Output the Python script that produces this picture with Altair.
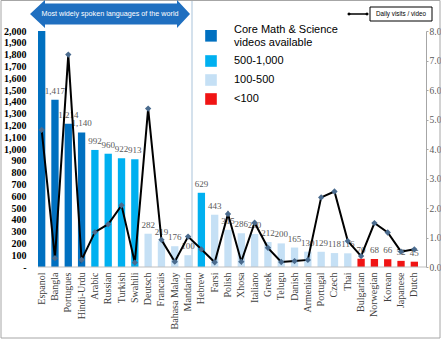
import altair as alt
import pandas as pd

languages = ["Espanol", "Bangla", "Portugues", "Hindi-Urdu", "Arabic", "Russian", "Turkish",
             "Swahili", "Deutsch", "Francais", "Bahasa Malay", "Mandarin", "Hebrew", "Farsi",
             "Polish", "Xhosa", "Italiano", "Greek", "Telugu", "Danish", "Armenian", "Portugal",
             "Czech", "Thai", "Bulgarian", "Norwegian", "Korean", "Japanese", "Dutch"]
videos = [2000, 1417, 1214, 1140, 992, 960, 922, 913, 282, 219, 176, 100, 629, 443,
          315, 286, 280, 212, 200, 165, 130, 129, 118, 116, 70, 68, 66, 52, 45]
daily_visits = [4.65, 0.30, 7.20, 0.24, 1.18, 1.45, 2.09, 0.15, 5.37, 0.92, 0.18, 1.03, 0.60, 0.16,
                1.80, 0.18, 1.50, 0.65, 0.17, 0.20, 0.24, 2.36, 2.56, 0.88, 0.37, 1.49, 1.17, 0.52, 0.60]
legend_labels = ["Core Math & Science videos available", "500-1,000", "100-500", "<100"]
legend_colors = ["#0070C0", "#00B0F0", "#C5E0F5", "#F01414"]
groups = [legend_labels[0]] * 4 + [legend_labels[1]] * 4 + [legend_labels[2]] * 4 + \
         [legend_labels[1]] + [legend_labels[2]] * 11 + [legend_labels[3]] * 5
banner_text = "Most widely spoken languages of the world"
line_legend_text = "Daily visits / video"

df = pd.DataFrame({"language": languages, "videos": videos, "visits": daily_visits, "group": groups})

W, H = 380, 236
L, T = 38, 31
serif = "Liberation Serif"
sans = "Liberation Sans"

x = alt.X("language:N", sort=languages,
          scale=alt.Scale(paddingInner=0.45, paddingOuter=0),
          axis=alt.Axis(title=None, labelAngle=-90, labelFont=serif, labelFontSize=10,
                        labelColor="#404040", ticks=False, domain=False, labelPadding=5))

left_scale = alt.Scale(domain=[0, 2000], nice=False)
right_scale = alt.Scale(domain=[0, 8], nice=False)

y_left = alt.Y("videos:Q", scale=left_scale,
               axis=alt.Axis(title=None, values=list(range(0, 2001, 100)),
                             labelExpr="datum.value == 0 ? '-\u00a0\u00a0\u00a0' : format(datum.value, ',')",
                             labelFont=serif, labelFontWeight="bold", labelFontSize=10,
                             labelColor="black", domain=False, ticks=False, grid=False,
                             labelPadding=12, orient="left"))

color_scale = alt.Scale(domain=legend_labels, range=legend_colors)
square = "M-1,-1H1V1H-1Z"
square_low = "M-1,0H1V2H-1Z"
shape_scale = alt.Scale(domain=legend_labels, range=[square_low, square, square, square])
first = legend_labels[0]

legend_spec = dict(title=None, orient="none", legendX=167, legendY=-7,
                   symbolSize=135, symbolStrokeWidth=0, symbolOpacity=1,
                   labelFont=sans, labelFontSize=11, labelColor="black",
                   labelLimit=300, labelOffset=17, rowPadding=7,
                   labelExpr="datum.label == '" + first + "' ? ['Core Math & Science', 'videos available'] : datum.label")

bars = alt.Chart(df).mark_bar().encode(
    x=x, y=y_left, color=alt.Color("group:N", scale=color_scale, legend=None))

legend_layer = alt.Chart(df).mark_point(filled=True, opacity=0, size=1).encode(
    x=x, y=alt.Y("videos:Q", scale=left_scale, axis=None),
    color=alt.Color("group:N", scale=color_scale, legend=alt.Legend(**legend_spec)),
    shape=alt.Shape("group:N", scale=shape_scale, legend=alt.Legend(**legend_spec)),
)

labels = alt.Chart(df).transform_filter("datum.videos < 2000").mark_text(
    baseline="bottom", dy=-4, font=serif, fontSize=9, color="#595959"
).encode(x=x, y=alt.Y("videos:Q", scale=left_scale, axis=None),
         text=alt.Text("videos:Q", format=","))

y_right = alt.Y("visits:Q", scale=right_scale,
                axis=alt.Axis(title=None, orient="right", offset=8, values=list(range(0, 9)),
                              format=".1f", labelFont=serif, labelFontSize=9.5,
                              labelColor="#595959", domainColor="#A6A6A6", tickColor="#A6A6A6",
                              tickSize=2, grid=False, labelPadding=1))
line = alt.Chart(df).mark_line(color="black", strokeWidth=2).encode(x=x, y=y_right)
points = alt.Chart(df).mark_point(shape="diamond", filled=True, size=40, color="#4A6B8E",
                                  opacity=1).encode(
    x=x, y=alt.Y("visits:Q", scale=right_scale, axis=None))

one = pd.DataFrame({"a": [0]})
base = alt.Chart(one)

frame = base.mark_rect(fill="transparent", stroke="#A6A6A6", strokeWidth=1).encode(
    x=alt.value(1 - L), x2=alt.value(440 - L), y=alt.value(0.5 - T), y2=alt.value(338 - T))
axis_line = base.mark_rule(color="#BFBFBF", strokeWidth=1).encode(
    x=alt.value(0), x2=alt.value(388), y=alt.value(H))
separator = base.mark_rule(color="#A9C3DA", strokeWidth=1).encode(
    x=alt.value(192 - L), y=alt.value(0 - T), y2=alt.value(H))

arrow_path = ("M-1,0L-0.8125,-0.175L-0.8125,-0.131L0.8375,-0.131L0.8375,-0.175L1,0"
              "L0.8375,0.175L0.8375,0.131L-0.8125,0.131L-0.8125,0.175Z")
banner = base.mark_point(shape=arrow_path, size=160 * 160, filled=True, color="#1F6FC0",
                         opacity=1, strokeWidth=0).encode(x=alt.value(110 - L), y=alt.value(14 - T))
banner_t = base.mark_text(color="white", font=sans, fontSize=7.2).encode(
    x=alt.value(110 - L), y=alt.value(14 - T), text=alt.value(banner_text))

box = base.mark_rect(fill="white", stroke="black", strokeWidth=1).encode(
    x=alt.value(370 - L), x2=alt.value(432 - L), y=alt.value(7 - T), y2=alt.value(21 - T))
box_t = base.mark_text(color="black", font=sans, fontSize=6.3).encode(
    x=alt.value(401 - L), y=alt.value(14 - T), text=alt.value(line_legend_text))
key_line = base.mark_rule(color="black", strokeWidth=1.5).encode(
    x=alt.value(349 - L), x2=alt.value(367 - L), y=alt.value(14 - T))
key_p1 = base.mark_point(shape="diamond", filled=True, size=14, color="black", opacity=1).encode(
    x=alt.value(349 - L), y=alt.value(14 - T))
key_p2 = base.mark_point(shape="diamond", filled=True, size=14, color="black", opacity=1).encode(
    x=alt.value(367 - L), y=alt.value(14 - T))

chart = alt.layer(separator, bars, legend_layer, labels, axis_line, line, points, frame, banner,
                  banner_t, box, key_line, key_p1, key_p2, box_t).resolve_scale(
    y="independent").resolve_legend(color="independent", shape="independent").properties(
    width=W, height=H,
    autosize=alt.AutoSizeParams(type="none"),
    padding={"left": L, "top": T, "right": 441 - L - W, "bottom": 340 - T - H},
    background="white",
).configure_view(stroke=None)

chart.save("out.html", embed_options={"renderer": "svg", "actions": False})
